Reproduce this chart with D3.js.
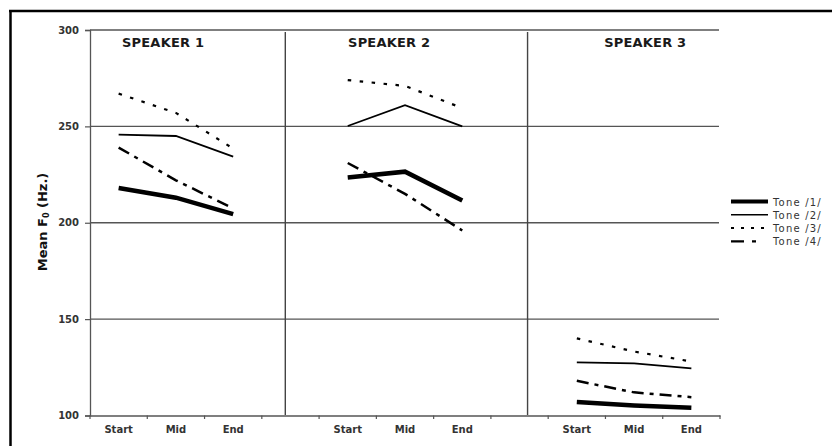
<!DOCTYPE html>
<html>
<head>
<meta charset="utf-8">
<script src="https://cdn.jsdelivr.net/npm/d3@7"></script>
<style>
  body { margin: 0; background: #fff; }
  text { font-family: "DejaVu Sans", Verdana, sans-serif; }
</style>
</head>
<body>
<script>
// slots along the x axis, gaps between speakers
var slots = ['1-Start', '1-Mid', '1-End', 'gap-1', '2-Start', '2-Mid', '2-End', 'gap-2', '3-Start', '3-Mid', '3-End'];
var phases = ['Start', 'Mid', 'End'];
var speakers = ['SPEAKER 1', 'SPEAKER 2', 'SPEAKER 3'];
var tones = ['Tone /1/', 'Tone /2/', 'Tone /3/', 'Tone /4/'];
var yTicks = [100, 150, 200, 250, 300];

// mean F0 per speaker (rows) x phase (start, mid, end)
var tone1 = [[218, 213, 204.5], [223.5, 226.5, 211.5], [107, 105.2, 104]];
var tone2 = [[245.7, 245, 234.3], [250.2, 261, 250], [127.6, 127, 124.5]];
var tone3 = [[267, 257, 238.5], [274, 271, 259.5], [140, 133.2, 128]];
var tone4 = [[239, 222, 207.5], [231, 215, 196], [118, 112, 109.5]];
var toneData = [tone1, tone2, tone3, tone4];

var toneStyle = [
  { w: 4.5, dash: null },
  { w: 1.8, dash: null },
  { w: 2.2, dash: '3.5,8.5' },
  { w: 2.5, dash: '12,6,4,6' }
];

var svg = d3.select('body').append('svg')
    .attr('width', 832)
    .attr('height', 446);

// outer frame (top and left only visible)
svg.append('line')
    .attr('x1', 9).attr('x2', 832).attr('y1', 11).attr('y2', 11)
    .attr('stroke', '#000').attr('stroke-width', 2.5);
svg.append('line')
    .attr('x1', 10.5).attr('x2', 10.5).attr('y1', 10).attr('y2', 446)
    .attr('stroke', '#000').attr('stroke-width', 2.5);

var x = d3.scaleBand().domain(slots).range([90, 720]);
var y = d3.scaleLinear().domain([100, 300]).range([415.5, 30]);

// horizontal grid
svg.selectAll('.grid')
    .data(yTicks.slice(1))
    .enter().append('line')
    .attr('x1', 90).attr('x2', 719)
    .attr('y1', function(d){ return y(d); })
    .attr('y2', function(d){ return y(d); })
    .attr('stroke', '#555').attr('stroke-width', 1.3);

// speaker dividers
var dividers = [{ slot: 'gap-1', f: 0.41 }, { slot: 'gap-2', f: 0.64 }];
svg.selectAll('.divider')
    .data(dividers)
    .enter().append('line')
    .attr('x1', function(d){ return x(d.slot) + x.bandwidth() * d.f; })
    .attr('x2', function(d){ return x(d.slot) + x.bandwidth() * d.f; })
    .attr('y1', 32).attr('y2', 415)
    .attr('stroke', '#444').attr('stroke-width', 1.4);

// y axis
var yAxis = svg.append('g')
    .attr('transform', 'translate(90,0)')
    .call(d3.axisLeft(y).tickValues(yTicks).tickSize(5).tickPadding(6));
yAxis.select('.domain').attr('stroke', '#555').attr('stroke-width', 1.3);
yAxis.selectAll('.tick line').attr('stroke', '#555').attr('stroke-width', 1.2);
yAxis.selectAll('.tick text')
    .attr('font-size', 10).attr('font-weight', 'bold').attr('fill', '#333')
    .style('font-family', '"DejaVu Sans", Verdana, sans-serif');

// x axis: labels at band centres, ticks at band edges
var xAxis = svg.append('g')
    .attr('transform', 'translate(0,415.5)')
    .call(d3.axisBottom(x).tickSize(0).tickPadding(10)
        .tickFormat(function(d){ return d.indexOf('gap') === 0 ? '' : d.split('-')[1]; }));
xAxis.select('.domain').attr('stroke', '#555').attr('stroke-width', 1.3);
xAxis.selectAll('.tick text')
    .attr('font-size', 10).attr('font-weight', 'bold').attr('fill', '#333')
    .style('font-family', '"DejaVu Sans", Verdana, sans-serif');
xAxis.selectAll('.edge')
    .data(slots.concat(['end']))
    .enter().append('line')
    .attr('x1', function(d){ return d === 'end' ? x.range()[1] : x(d); })
    .attr('x2', function(d){ return d === 'end' ? x.range()[1] : x(d); })
    .attr('y1', 0).attr('y2', 3.5)
    .attr('stroke', '#555').attr('stroke-width', 1.2);

// y label
svg.append('text')
    .attr('transform', 'translate(46.5,222) rotate(-90)')
    .attr('text-anchor', 'middle')
    .attr('font-size', 13).attr('font-weight', 'bold').attr('fill', '#111')
    .html('Mean F<tspan font-size="8" dy="2">0</tspan><tspan dy="-2"> (Hz.)</tspan>');

// speaker titles
var titleOffset = [32, 29, 56];
svg.selectAll('.title')
    .data(speakers)
    .enter().append('text')
    .attr('x', function(d, i){ return x((i + 1) + '-Start') + titleOffset[i]; })
    .attr('y', 46.5)
    .attr('font-size', 13).attr('font-weight', 'bold').attr('fill', '#1a1a1a')
    .attr('letter-spacing', 0.2)
    .text(function(d){ return d; });

// tone lines
var line = d3.line()
    .x(function(d){ return x(d.slot) + x.bandwidth() / 2; })
    .y(function(d){ return y(d.v); });

toneData.forEach(function(tone, t){
  tone.forEach(function(vals, s){
    var pts = vals.map(function(v, p){ return { slot: (s + 1) + '-' + phases[p], v: v }; });
    svg.append('path')
        .datum(pts)
        .attr('d', line)
        .attr('fill', 'none')
        .attr('stroke', '#000')
        .attr('stroke-width', toneStyle[t].w)
        .attr('stroke-dasharray', toneStyle[t].dash);
  });
});

// legend
var legend = svg.selectAll('.legend')
    .data(tones)
    .enter().append('g')
    .attr('transform', function(d, i){ return 'translate(731,' + (202.5 + i * 13.3) + ')'; });
legend.append('line')
    .attr('x1', 0).attr('x2', 37).attr('y1', -1).attr('y2', -1)
    .attr('stroke', '#000')
    .attr('stroke-width', function(d, i){ return toneStyle[i].w * 0.9; })
    .attr('stroke-dasharray', function(d, i){ return toneStyle[i].dash ? (i === 2 ? '3,7' : '13,8,4,20') : null; });
legend.append('text')
    .attr('x', 42).attr('y', 3)
    .attr('font-size', 10).attr('fill', '#333')
    .attr('letter-spacing', 1.2)
    .text(function(d){ return d; });
</script>
</body>
</html>
